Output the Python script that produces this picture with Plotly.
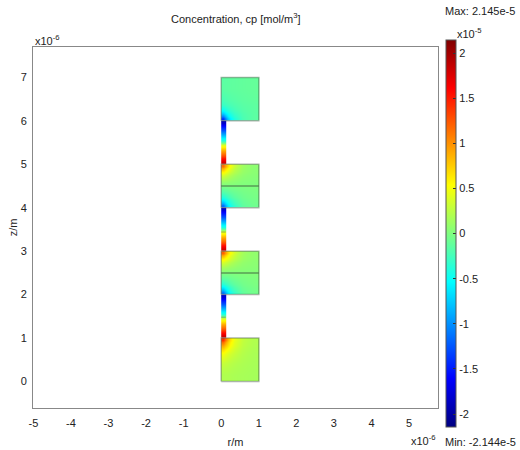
import plotly.graph_objects as go

# Units: r, z in 1e-6 m ; concentration in 1e-5 mol/m^3
block_r_edges = [0, 0.1, 0.25, 0.45, 0.7, 1.0]

# Block 1 (z 0..1): hot corner at top-left
block1_z_edges = [0, 0.3, 0.55, 0.75, 0.9, 1.0]
block1_vals = [
    [0.20, 0.20, 0.18, 0.17, 0.16],
    [0.30, 0.27, 0.22, 0.19, 0.17],
    [0.50, 0.40, 0.30, 0.22, 0.18],
    [0.90, 0.65, 0.40, 0.26, 0.20],
    [1.40, 0.85, 0.45, 0.28, 0.21],
]

# Block 2 (z 2..3)
block2_z_edges = [2.0, 2.1, 2.25, 2.5, 2.75, 2.9, 3.0]
block2_vals = [
    [-1.10, -0.60, -0.30, -0.12, -0.05],
    [-0.60, -0.40, -0.20, -0.08, -0.03],
    [-0.15, -0.12, -0.06, -0.02, 0.00],
    [0.15, 0.12, 0.08, 0.05, 0.04],
    [0.60, 0.45, 0.25, 0.12, 0.07],
    [1.20, 0.70, 0.35, 0.15, 0.08],
]

# Block 3 (z 4..5)
block3_z_edges = [4.0, 4.1, 4.25, 4.5, 4.75, 4.9, 5.0]
block3_vals = [
    [-1.15, -0.62, -0.32, -0.14, -0.07],
    [-0.62, -0.42, -0.22, -0.10, -0.05],
    [-0.18, -0.14, -0.08, -0.04, -0.02],
    [0.12, 0.10, 0.06, 0.03, 0.02],
    [0.58, 0.42, 0.22, 0.10, 0.05],
    [1.15, 0.68, 0.32, 0.13, 0.06],
]

# Block 4 (z 6..7): cold corner at bottom-left
block4_z_edges = [6.0, 6.1, 6.25, 6.5, 7.0]
block4_vals = [
    [-1.40, -0.75, -0.40, -0.22, -0.15],
    [-0.75, -0.50, -0.30, -0.20, -0.15],
    [-0.30, -0.25, -0.20, -0.16, -0.14],
    [-0.15, -0.14, -0.13, -0.12, -0.11],
]

# Thin channel along the axis (r 0..0.12) between the blocks
channel_r_edges = [0, 0.06, 0.12]
channel_rel_z_edges = [0, 0.1, 0.2, 0.3, 0.4, 0.5, 0.6, 0.7, 0.8, 0.9, 1.0]
channel1_vals = [1.80, 1.50, 1.10, 0.75, 0.40, -0.40, -0.75, -1.10, -1.45, -1.80]
channel2_vals = [1.80, 1.50, 1.10, 0.75, 0.40, -0.40, -0.75, -1.10, -1.45, -1.80]
channel3_vals = [1.80, 1.50, 1.10, 0.75, 0.40, -0.40, -0.75, -1.10, -1.45, -1.85]
channel_starts = [1.0, 3.0, 5.0]

block_z_ranges = [(0, 1), (2, 3), (4, 5), (6, 7)]
divider_z = [2.5, 4.5]
channel_marks_z = [1.48, 3.44]

c_min, c_max = -2.144, 2.145
cbar_ticks = [-2, -1.5, -1, -0.5, 0, 0.5, 1, 1.5, 2]
x_ticks = [-5, -4, -3, -2, -1, 0, 1, 2, 3, 4, 5]
y_ticks = [0, 1, 2, 3, 4, 5, 6, 7]

jet = [[0, 'rgb(0,0,128)'], [0.125, 'rgb(0,0,255)'], [0.375, 'rgb(0,255,255)'],
       [0.625, 'rgb(255,255,0)'], [0.875, 'rgb(255,0,0)'], [1, 'rgb(128,0,0)']]

FONT = "Liberation Sans"
TXT = "#222222"

W, H = 520, 450
ML, MR, MT, MB = 33, 82, 47, 42
PW, PH = W - ML - MR, H - MT - MB


def px_x(x):
    return (x - ML) / PW


def px_y(y):
    return 1 - (y - MT) / PH


fig = go.Figure()


def add_heat(x_edges, y_edges, z):
    fig.add_trace(go.Heatmap(x=x_edges, y=y_edges, z=z, coloraxis="coloraxis",
                             zsmooth="best", hoverinfo="skip"))


add_heat(block_r_edges, block1_z_edges, block1_vals)
add_heat(block_r_edges, block2_z_edges, block2_vals)
add_heat(block_r_edges, block3_z_edges, block3_vals)
add_heat(block_r_edges, block4_z_edges, block4_vals)
for start, vals in zip(channel_starts, [channel1_vals, channel2_vals, channel3_vals]):
    add_heat(channel_r_edges, [start + e for e in channel_rel_z_edges],
             [[v, v] for v in vals])

edge_col = "rgba(70,90,70,0.45)"
for z0, z1 in block_z_ranges:
    fig.add_trace(go.Scatter(x=[0, 1, 1, 0, 0], y=[z0, z0, z1, z1, z0], mode="lines",
                             line=dict(color=edge_col, width=1.5), hoverinfo="skip",
                             showlegend=False))
for zd in divider_z:
    fig.add_trace(go.Scatter(x=[0, 1], y=[zd, zd], mode="lines",
                             line=dict(color="rgba(60,90,60,0.6)", width=1.5),
                             hoverinfo="skip", showlegend=False))
for zm in channel_marks_z:
    fig.add_trace(go.Scatter(x=[0, channel_r_edges[-1]], y=[zm, zm], mode="lines",
                             line=dict(color="rgba(90,110,90,0.5)", width=1),
                             hoverinfo="skip", showlegend=False))

fig.update_layout(
    width=W, height=H,
    margin=dict(l=ML, r=MR, t=MT, b=MB, autoexpand=False),
    paper_bgcolor="white", plot_bgcolor="white",
    showlegend=False,
    font=dict(family=FONT, size=11, color=TXT),
    coloraxis=dict(
        cmin=c_min, cmax=c_max, colorscale=jet,
        colorbar=dict(
            xref="paper", x=px_x(446), xanchor="left",
            yref="paper", y=px_y(233.5), yanchor="middle",
            lenmode="pixels", len=387, thickness=10, xpad=0, ypad=0,
            outlinewidth=1, outlinecolor="#555555",
            tickvals=cbar_ticks, ticktext=[f"{t:g}" for t in cbar_ticks],
            ticks="inside", ticklen=3, tickcolor="#333333",
            tickfont=dict(family=FONT, size=11, color=TXT),
        ),
    ),
    xaxis=dict(range=[-5.01, 5.77], tickvals=x_ticks, ticktext=[str(t) for t in x_ticks],
               showgrid=False, zeroline=False, showline=True, mirror=True,
               linecolor="#888888", linewidth=1, ticks="", ticklabelstandoff=5,
               automargin=False,
               title=dict(text="r/m", standoff=10, font=dict(size=11))),
    yaxis=dict(range=[-0.61, 7.70], tickvals=y_ticks, ticktext=[str(t) for t in y_ticks],
               showgrid=False, zeroline=False, showline=True, mirror=True,
               linecolor="#888888", linewidth=1, ticks="", ticklabelstandoff=3,
               automargin=False,
               title=dict(text="z/m", standoff=0, font=dict(size=11))),
)

ann = [
    dict(text="Concentration, cp [mol/m<sup>3</sup>]", x=0.5, xanchor="center",
         y=px_y(18), yanchor="middle", font=dict(size=11)),
    dict(text="x10<sup>-6</sup>", x=0, xanchor="left",
         y=1, yanchor="bottom", yshift=-2),
    dict(text="x10<sup>-6</sup>", x=1, xanchor="right",
         y=px_y(440), yanchor="middle"),
    dict(text="x10<sup>-5</sup>", x=px_x(455), xanchor="left",
         y=px_y(33), yanchor="middle"),
    dict(text="Max: 2.145e-5", x=px_x(517), xanchor="right",
         y=px_y(11), yanchor="middle"),
    dict(text="Min: -2.144e-5", x=px_x(518), xanchor="right",
         y=px_y(442), yanchor="middle"),
]
for a in ann:
    a.update(xref="paper", yref="paper", showarrow=False)
    fig.add_annotation(**a)

fig.write_html("out.html")
